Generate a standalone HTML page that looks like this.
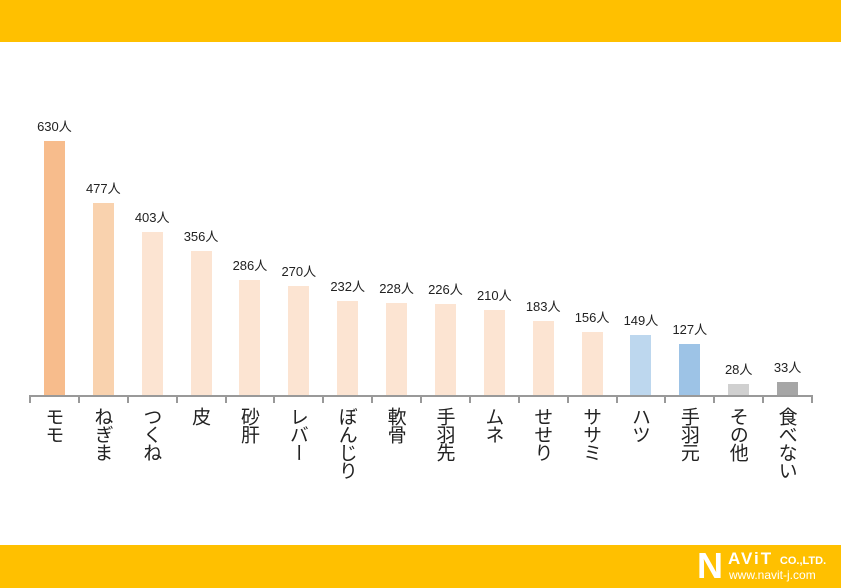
<!DOCTYPE html><html><head><meta charset="utf-8"><style>
body{margin:0;width:841px;height:588px;background:#fff;position:relative;overflow:hidden;font-family:"Liberation Sans","Noto Sans CJK JP",sans-serif;color:#222}
.bar{position:absolute;width:21px}
.v{position:absolute;font-size:13px;width:60px;text-align:center;white-space:nowrap}
.c{position:absolute;top:407px;writing-mode:vertical-rl;font-size:19px;line-height:20px;width:20px;font-family:"Noto Sans CJK JP",sans-serif;letter-spacing:-1px}
</style></head><body>
<div style="position:absolute;left:0;top:0;width:841px;height:42px;background:#FFC000"></div>
<div style="position:absolute;left:0;top:545px;width:841px;height:43px;background:#FFC000"></div>
<div style="position:absolute;left:697px;top:546px;color:#fff;font-weight:bold;font-size:36px;line-height:40px;font-family:'Liberation Sans',sans-serif">N</div>
<div style="position:absolute;left:728px;top:549px;color:#fff;font-weight:bold;font-size:17px;letter-spacing:2px">AViT <span style="font-size:11px;letter-spacing:0">CO.,LTD.</span></div>
<div style="position:absolute;left:729px;top:568px;color:#fff;font-size:12px">www.navit-j.com</div>
<div style="position:absolute;left:30px;top:395px;width:782px;height:2px;background:#999"></div>
<div id="g"></div>
<script>
var d=[["モモ",630,"#F7BC8C"],["ねぎま",477,"#F9D2AE"],["つくね",403,"#FCE4D2"],["皮",356,"#FCE4D2"],["砂肝",286,"#FCE4D2"],["レバー",270,"#FCE4D2"],["ぼんじり",232,"#FCE4D2"],["軟骨",228,"#FCE4D2"],["手羽先",226,"#FCE4D2"],["ムネ",210,"#FCE4D2"],["せせり",183,"#FCE4D2"],["ササミ",156,"#FCE4D2"],["ハツ",149,"#BDD7EE"],["手羽元",127,"#9DC3E6"],["その他",28,"#D0D0D0"],["食べない",33,"#A6A6A6"]];
var h="",w=782/16;
for(var i=0;i<17;i++)h+='<div style="position:absolute;left:'+(30+i*w-1)+'px;top:395px;width:2px;height:8px;background:#999"></div>';
d.forEach(function(e,i){var cx=30+w*(i+0.5),ht=e[1]*0.4035,t=395-ht;
h+='<div class="bar" style="left:'+(cx-10.5)+'px;top:'+t+'px;height:'+ht+'px;background:'+e[2]+'"></div>';
h+='<div class="v" style="left:'+(cx-30)+'px;top:'+(t-25)+'px">'+e[1]+'人</div>';
h+='<div class="c" style="left:'+(cx-10)+'px">'+e[0]+'</div>';});
document.getElementById("g").innerHTML=h;
</script></body></html>
